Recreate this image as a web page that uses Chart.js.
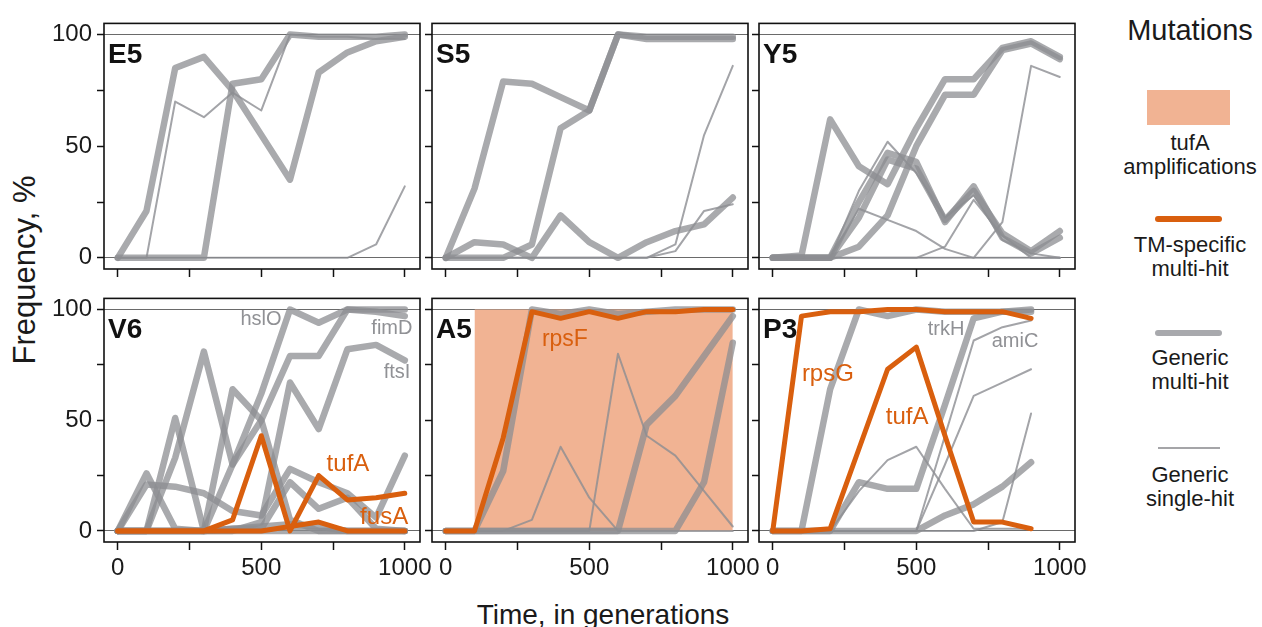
<!DOCTYPE html>
<html>
<head>
<meta charset="utf-8">
<script src="https://cdn.jsdelivr.net/npm/chart.js@4.4.1/dist/chart.umd.min.js"></script>
<style>
body{margin:0;background:#fff;}
#wrap{position:relative;width:1262px;height:627px;overflow:hidden;background:#fff;
  font-family:"Liberation Sans",Arial,sans-serif;color:#1a1a1a;}
#wrap canvas{position:absolute;}
.t{position:absolute;text-align:center;white-space:nowrap;}
.sw{position:absolute;}
</style>
</head>
<body>
<div id="wrap">
  <div class="t" style="left:-125px;top:252px;width:300px;height:36px;line-height:36px;font-size:31px;transform:rotate(-90deg);">Frequency, %</div>
  <div class="t" style="left:403px;top:598px;width:400px;line-height:34px;font-size:28px;">Time, in generations</div>

  <div class="t" style="left:1100px;top:13px;width:180px;line-height:34px;font-size:29px;">Mutations</div>
  <div class="sw" style="left:1147px;top:90px;width:83px;height:35px;background:#f1b393;"></div>
  <div class="t" style="left:1100px;top:131px;width:180px;line-height:24px;font-size:22px;">tufA<br>amplifications</div>
  <div class="sw" style="left:1155px;top:216px;width:67px;height:6px;border-radius:3px;background:#d95f0e;"></div>
  <div class="t" style="left:1100px;top:233px;width:180px;line-height:24px;font-size:22px;">TM-specific<br>multi-hit</div>
  <div class="sw" style="left:1155px;top:330px;width:67px;height:6px;border-radius:3px;background:#a8a9ad;"></div>
  <div class="t" style="left:1100px;top:346px;width:180px;line-height:24px;font-size:22px;">Generic<br>multi-hit</div>
  <div class="sw" style="left:1158px;top:447px;width:62px;height:2px;background:#a5a5a8;"></div>
  <div class="t" style="left:1100px;top:463px;width:180px;line-height:24px;font-size:22px;">Generic<br>single-hit</div>
</div>
<script>
// time points (generations)
const gens = [0, 100, 200, 300, 400, 500, 600, 700, 800, 900, 1000];
const xTicks = [0, 250, 500, 750, 1000];
const xLabelTicks = [0, 500, 1000];
const yTicks = [0, 25, 50, 75, 100];
const yLabelTicks = [0, 50, 100];

// E5
const e5_a = [0, 21, 85, 90, 75, 55, 35, 83, 92, 97, 99];
const e5_b = [0, 0, 0, 0, 78, 80, 100, 99, 99, 99, 100];
const e5_c = [0, 0, 70, 63, 74, 66, 100, 99, 99, 98, 98];
const e5_d = [0, 0, 0, 0, 0, 0, 0, 0, 0, 6, 32];

// S5
const s5_a = [0, 31, 79, 78, 72, 66, 100, 99, 99, 99, 99];
const s5_b = [0, 0, 0, 6, 58, 66, 100, 98, 98, 98, 98];
const s5_c = [0, 7, 6, 0, 19, 7, 0, 7, 12, 15, 27];
const s5_d = [0, 0, 0, 0, 0, 0, 0, 0, 6, 55, 86];
const s5_e = [0, 0, 0, 0, 0, 0, 0, 0, 3, 21, 24];

// Y5
const y5_a = [0, 1, 62, 41, 33, 58, 80, 80, 94, 97, 90];
const y5_b = [0, 0, 0, 5, 19, 50, 73, 73, 93, 96, 89];
const y5_c = [0, 0, 0, 25, 47, 43, 16, 32, 9, 2, 9];
const y5_d = [0, 0, 0, 18, 44, 40, 17, 30, 11, 3, 12];
const y5_e = [0, 0, 0, 30, 52, 38, 18, 28, 8, 2, 0];
const y5_f = [0, 0, 0, 22, 17, 12, 4, 0, 0, 0, 0];
const y5_g = [0, 0, 0, 0, 0, 0, 5, 26, 10, 0, 0];
const y5_h = [0, 0, 0, 0, 0, 0, 0, 0, 16, 86, 81];

// V6
const v6_tufA = [0, 0, 0, 0, 5, 43, 0, 25, 14, 15, 17];
const v6_fusA = [0, 0, 0, 0, 0, 0, 2, 4, 0, 0, 0];
const v6_hslO = [0, 0, 0, 0, 30, 62, 100, 94, 100, 100, 100];
const v6_fimD = [0, 0, 33, 81, 30, 50, 79, 79, 100, 99, 97];
const v6_ftsI = [0, 0, 0, 0, 0, 4, 67, 46, 82, 84, 77];
const v6_a = [0, 26, 1, 0, 1, 2, 3, 2, 0, 0, 0];
const v6_b = [0, 21, 20, 17, 9, 7, 28, 22, 17, 6, 34];
const v6_c = [0, 0, 51, 0, 0, 0, 0, 0, 0, 0, 0];
const v6_d = [0, 0, 0, 0, 64, 50, 5, 0, 0, 0, 0];
const v6_e = [0, 0, 0, 0, 1, 1, 22, 10, 15, 1, 0];

// A5
const a5_rpsF = [0, 0, 42, 99, 96, 99, 96, 99, 99, 100, 100];
const a5_a = [0, 0, 27, 100, 98, 100, 98, 99, 100, 100, 100];
const a5_b = [0, 0, 0, 0, 0, 0, 0, 48, 61, 79, 97];
const a5_c = [0, 0, 0, 0, 0, 0, 0, 0, 0, 22, 85];
const a5_d = [0, 0, 0, 5, 38, 15, 0, 0, 0, 0, 0];
const a5_e = [0, 0, 0, 0, 0, 0, 80, 43, 34, 18, 2];
const a5_amp = [100, 1000];   // tufA amplification span

// P3 (sampled up to 900)
const p3_rpsG = [0, 97, 99, 99, 100, 100, 99, 99, 99, 96];
const p3_tufA = [0, 0, 1, 37, 73, 83, 43, 4, 4, 1];
const p3_a = [0, 0, 64, 100, 97, 100, 99, 99, 99, 99];
const p3_trkH = [0, 0, 0, 22, 19, 19, 57, 96, 99, 100];
const p3_b = [0, 0, 0, 0, 0, 0, 7, 12, 20, 31];
const p3_c = [0, 0, 0, 18, 32, 38, 19, 1, 1, 1];
const p3_amiC = [0, 0, 0, 0, 0, 0, 43, 86, 92, 95];
const p3_d = [0, 0, 0, 0, 0, 0, 30, 61, 67, 73];
const p3_e = [0, 0, 0, 0, 0, 0, 0, 0, 4, 53];

const FONT = '"Liberation Sans", Arial, sans-serif';
const ORANGE = '#d95f0e';
const GREY_TXT = '#909195';

// line styles
const style = {
  tm: {borderColor: ORANGE, borderWidth: 5, order: 0},
  multi: {borderColor: 'rgba(140,141,146,0.75)', borderWidth: 6.5, order: 1},
  single: {borderColor: 'rgba(140,141,146,0.8)', borderWidth: 2, order: 2}
};

const panels = [
  {name: 'E5', col: 0, row: 0, series: [[e5_a, 'multi'], [e5_b, 'multi'], [e5_c, 'single'], [e5_d, 'single']], notes: []},
  {name: 'S5', col: 1, row: 0, series: [[s5_a, 'multi'], [s5_b, 'multi'], [s5_c, 'multi'], [s5_d, 'single'], [s5_e, 'single']], notes: []},
  {name: 'Y5', col: 2, row: 0, series: [[y5_a, 'multi'], [y5_b, 'multi'], [y5_c, 'multi'], [y5_d, 'multi'],
    [y5_e, 'single'], [y5_f, 'single'], [y5_g, 'single'], [y5_h, 'single']], notes: []},
  {name: 'V6', col: 0, row: 1, series: [[v6_tufA, 'tm'], [v6_fusA, 'tm'], [v6_hslO, 'multi'], [v6_fimD, 'multi'], [v6_ftsI, 'multi'],
    [v6_a, 'multi'], [v6_b, 'multi'], [v6_c, 'multi'], [v6_d, 'multi'], [v6_e, 'multi']],
    notes: [
      {text: 'hslO', x: 499, y: 95.4, color: GREY_TXT, size: 20},
      {text: 'fimD', x: 955, y: 91.5, color: GREY_TXT, size: 20},
      {text: 'ftsI', x: 973, y: 71.5, color: GREY_TXT, size: 20},
      {text: 'tufA', x: 802, y: 30.2, color: ORANGE, size: 24},
      {text: 'fusA', x: 928, y: 6.3, color: ORANGE, size: 24}
    ]},
  {name: 'A5', col: 1, row: 1, amp: a5_amp, series: [[a5_rpsF, 'tm'], [a5_a, 'multi'], [a5_b, 'multi'], [a5_c, 'multi'], [a5_d, 'single'], [a5_e, 'single']],
    notes: [{text: 'rpsF', x: 415, y: 86.3, color: ORANGE, size: 23}]},
  {name: 'P3', col: 2, row: 1, series: [[p3_rpsG, 'tm'], [p3_tufA, 'tm'], [p3_a, 'multi'], [p3_trkH, 'multi'], [p3_b, 'multi'],
    [p3_c, 'single'], [p3_amiC, 'single'], [p3_d, 'single'], [p3_e, 'single']],
    notes: [
      {text: 'rpsG', x: 192, y: 70.6, color: ORANGE, size: 24},
      {text: 'tufA', x: 468, y: 51.1, color: ORANGE, size: 24},
      {text: 'trkH', x: 604, y: 91.1, color: GREY_TXT, size: 20},
      {text: 'amiC', x: 844, y: 85.4, color: GREY_TXT, size: 20}
    ]}
];

// panel geometry
const colLeft = [104, 432, 759];
const rowTop = [14, 289];
const rowH = [255, 253];
const W = 316;
const PAD_L = 60, PAD_R = 26, PAD_T = 10, PAD_B = 45;

// frame, panel name and gene labels
const panelDecor = {
  id: 'panelDecor',
  afterDraw(chart, args, opts) {
    const {ctx, chartArea: a, scales} = chart;
    ctx.save();
    ctx.strokeStyle = '#111';
    ctx.lineWidth = 1.6;
    ctx.strokeRect(a.left, a.top, a.right - a.left, a.bottom - a.top);
    ctx.fillStyle = '#111';
    ctx.font = 'bold 28px ' + FONT;
    ctx.textAlign = 'left';
    ctx.textBaseline = 'alphabetic';
    ctx.fillText(opts.name, a.left + 4, a.top + 40);
    ctx.textAlign = 'center';
    ctx.textBaseline = 'middle';
    (opts.notes || []).forEach(n => {
      ctx.fillStyle = n.color;
      ctx.font = n.size + 'px ' + FONT;
      ctx.fillText(n.text, scales.x.getPixelForValue(n.x), scales.y.getPixelForValue(n.y));
    });
    ctx.restore();
  }
};
Chart.register(panelDecor);

const wrap = document.getElementById('wrap');

panels.forEach(p => {
  const L = colLeft[p.col], T = rowTop[p.row], H = rowH[p.row];
  const cv = document.createElement('canvas');
  cv.width = PAD_L + W + PAD_R;
  cv.height = PAD_T + H + PAD_B;
  cv.style.left = (L - PAD_L) + 'px';
  cv.style.top = (T - PAD_T) + 'px';
  wrap.appendChild(cv);

  const datasets = p.series.map(([vals, kind]) => Object.assign({
    data: vals.map((v, i) => ({x: gens[i], y: v})),
    pointRadius: 0,
    tension: 0,
    fill: false,
    borderCapStyle: 'round',
    borderJoinStyle: 'round'
  }, style[kind]));

  if (p.amp) {
    datasets.push({
      data: p.amp.map(x => ({x: x, y: 100})),
      fill: 'origin',
      backgroundColor: '#f1b393',
      borderWidth: 0,
      pointRadius: 0,
      order: 3
    });
  }

  new Chart(cv, {
    type: 'line',
    data: {datasets: datasets},
    options: {
      responsive: false,
      animation: false,
      devicePixelRatio: 1,
      layout: {padding: {top: PAD_T, right: PAD_R, left: 0, bottom: 0}},
      plugins: {
        legend: {display: false},
        tooltip: {enabled: false},
        panelDecor: {name: p.name, notes: p.notes}
      },
      scales: {
        x: {
          type: 'linear', min: -48, max: 1053,
          afterBuildTicks: s => { s.ticks = xTicks.map(v => ({value: v})); },
          afterFit: s => { s.height = PAD_B; },
          border: {display: false},
          grid: {drawOnChartArea: false, drawTicks: true, tickLength: 8, tickColor: '#111', tickWidth: 1.5},
          ticks: {
            autoSkip: false, maxRotation: 0, padding: 4, color: '#1a1a1a',
            font: {family: FONT, size: 24},
            callback: v => (p.row === 1 && xLabelTicks.includes(v)) ? String(v) : ''
          }
        },
        y: {
          type: 'linear', min: -5, max: 105, z: 1,
          afterBuildTicks: s => { s.ticks = yTicks.map(v => ({value: v})); },
          afterFit: s => { s.width = PAD_L; },
          border: {display: false},
          grid: {
            color: c => (c.tick && (c.tick.value === 0 || c.tick.value === 100)) ? '#6a6a6a' : 'rgba(0,0,0,0)',
            lineWidth: 1, tickLength: 7, tickColor: '#111', tickWidth: 1.5
          },
          ticks: {
            autoSkip: false, padding: 5, color: '#1a1a1a',
            font: {family: FONT, size: 24},
            callback: v => (p.col === 0 && yLabelTicks.includes(v)) ? String(v) : ''
          }
        }
      }
    }
  });
});
</script>
</body>
</html>
